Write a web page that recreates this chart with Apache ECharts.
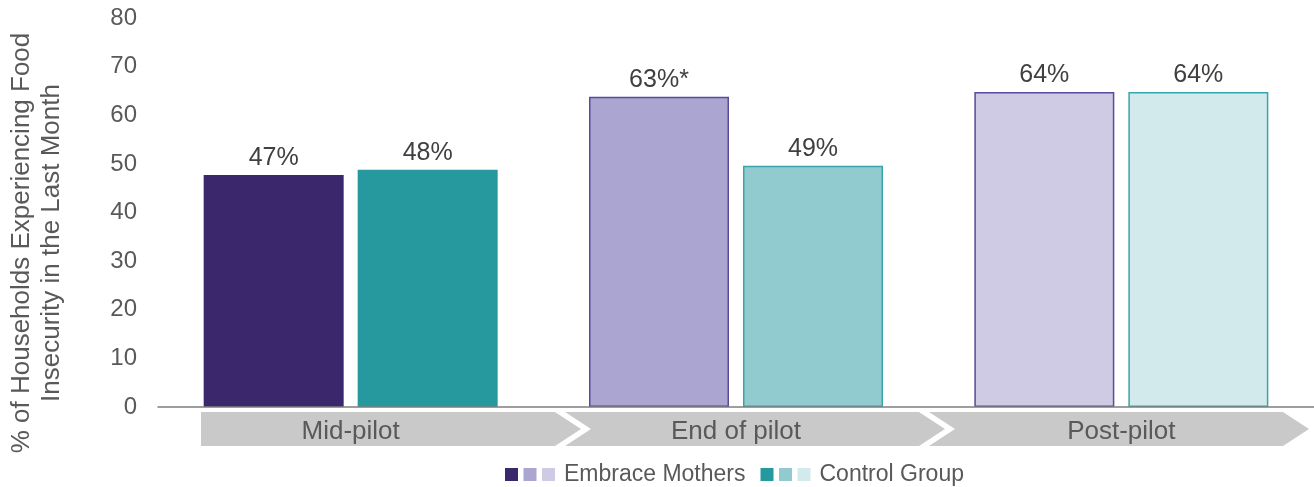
<!DOCTYPE html>
<html>
<head>
<meta charset="utf-8">
<script src="https://cdn.jsdelivr.net/npm/echarts@6/dist/echarts.min.js"></script>
<style>
  html, body { margin: 0; padding: 0; background: #fff; }
  #chart { width: 1314px; height: 487px; }
</style>
</head>
<body>
<div id="chart"></div>
<script>
// ---- data ----
const categories = ['Mid-pilot', 'End of pilot', 'Post-pilot'];
const embraceValues = [47.7, 63.8, 64.8];
const controlValues = [48.8, 49.6, 64.8];
const embraceNotes = ['', '*', ''];
const controlNotes = ['', '', ''];
const yTicks = [0, 10, 20, 30, 40, 50, 60, 70, 80];
const seriesNames = ['Embrace Mothers', 'Control Group'];
const yTitle = '% of Households Experiencing Food\nInsecurity in the Last Month';

// ---- styles ----
const FONT = '"Liberation Sans", Arial, sans-serif';
const embraceFill = ['#3B276B', '#AAA5D1', '#CFCBE5'];
const embraceBorder = ['#3B276B', '#5A4A9A', '#5A4A9A'];
const controlFill = ['#26999F', '#92CBCF', '#D3EAED'];
const controlBorder = ['#26999F', '#38A5AA', '#38A5AA'];

function barData(values, fills, borders) {
  return values.map((v, i) => ({
    value: v,
    itemStyle: { color: fills[i], borderColor: borders[i], borderWidth: i === 0 ? 0 : 1.5 }
  }));
}

const chart = echarts.init(document.getElementById('chart'));

const option = {
  animation: false,
  textStyle: { fontFamily: FONT },
  grid: { left: 158, right: 0, top: 18, bottom: 80, containLabel: false },
  xAxis: {
    type: 'category',
    data: categories,
    z: 10,
    axisLine: { show: true, lineStyle: { color: '#7F7F7F', width: 1.5 } },
    axisTick: { show: false },
    axisLabel: {
      color: '#595959', fontSize: 26, fontFamily: FONT,
      verticalAlign: 'middle', margin: 25
    }
  },
  yAxis: {
    type: 'value',
    min: yTicks[0], max: yTicks[yTicks.length - 1], interval: 10,
    axisLine: { show: false },
    axisTick: { show: false },
    splitLine: { show: false },
    axisLabel: { color: '#595959', fontSize: 24, fontFamily: FONT, margin: 21 }
  },
  legend: {
    data: seriesNames,
    left: 495,
    top: 458,
    itemWidth: 0,
    itemHeight: 0,
    itemGap: 10,
    selectedMode: false,
    formatter: function (name) {
      if (name === seriesNames[0]) return '{e1| }{sp| }{e2| }{sp| }{e3| }{gap| }' + name;
      return '{c1| }{sp| }{c2| }{sp| }{c3| }{gap| }' + name;
    },
    textStyle: {
      color: '#595959', fontSize: 23, fontFamily: FONT,
      rich: {
        e1: { width: 13, height: 13, backgroundColor: embraceFill[0] },
        e2: { width: 13, height: 13, backgroundColor: embraceFill[1] },
        e3: { width: 13, height: 13, backgroundColor: embraceFill[2] },
        c1: { width: 13, height: 13, backgroundColor: controlFill[0] },
        c2: { width: 13, height: 13, backgroundColor: controlFill[1] },
        c3: { width: 13, height: 13, backgroundColor: controlFill[2] },
        sp: { width: 5.5 },
        gap: { width: 9 }
      }
    }
  },
  graphic: [{
    type: 'text',
    x: 37, y: 243,
    rotation: Math.PI / 2,
    style: {
      text: yTitle,
      fontSize: 26,
      fontFamily: FONT,
      fill: '#595959',
      align: 'center',
      verticalAlign: 'middle',
      lineHeight: 30
    }
  }],
  series: [
    {
      type: 'custom',
      name: 'bands',
      silent: true,
      z: 1,
      clip: false,
      data: categories.map((c, i) => [i]),
      encode: { x: 0 },
      renderItem: function (params, api) {
        const cs = params.coordSys;
        const i = api.value(0);
        const pitch = 364, w = 354, d = 26;
        const L = cs.x + 43 + i * pitch;
        const R = L + w;
        const T = cs.y + cs.height + 5;
        const B = T + 34;
        const M = (T + B) / 2;
        const pts = i === 0
          ? [[L, T], [R, T], [R + d, M], [R, B], [L, B]]
          : [[L, T], [R, T], [R + d, M], [R, B], [L, B], [L + d, M]];
        return { type: 'polygon', shape: { points: pts }, style: { fill: '#C9C9C9' } };
      }
    },
    {
      type: 'bar',
      name: seriesNames[0],
      data: barData(embraceValues, embraceFill, embraceBorder),
      barWidth: 140,
      barGap: '10%',
      label: {
        show: true, position: 'top', distance: 4,
        color: '#404040', fontSize: 25, fontFamily: FONT,
        formatter: p => Math.floor(p.value) + '%' + embraceNotes[p.dataIndex]
      }
    },
    {
      type: 'bar',
      name: seriesNames[1],
      data: barData(controlValues, controlFill, controlBorder),
      barWidth: 140,
      barGap: '10%',
      label: {
        show: true, position: 'top', distance: 4,
        color: '#404040', fontSize: 25, fontFamily: FONT,
        formatter: p => Math.floor(p.value) + '%' + controlNotes[p.dataIndex]
      }
    }
  ]
};

chart.setOption(option);
</script>
</body>
</html>
